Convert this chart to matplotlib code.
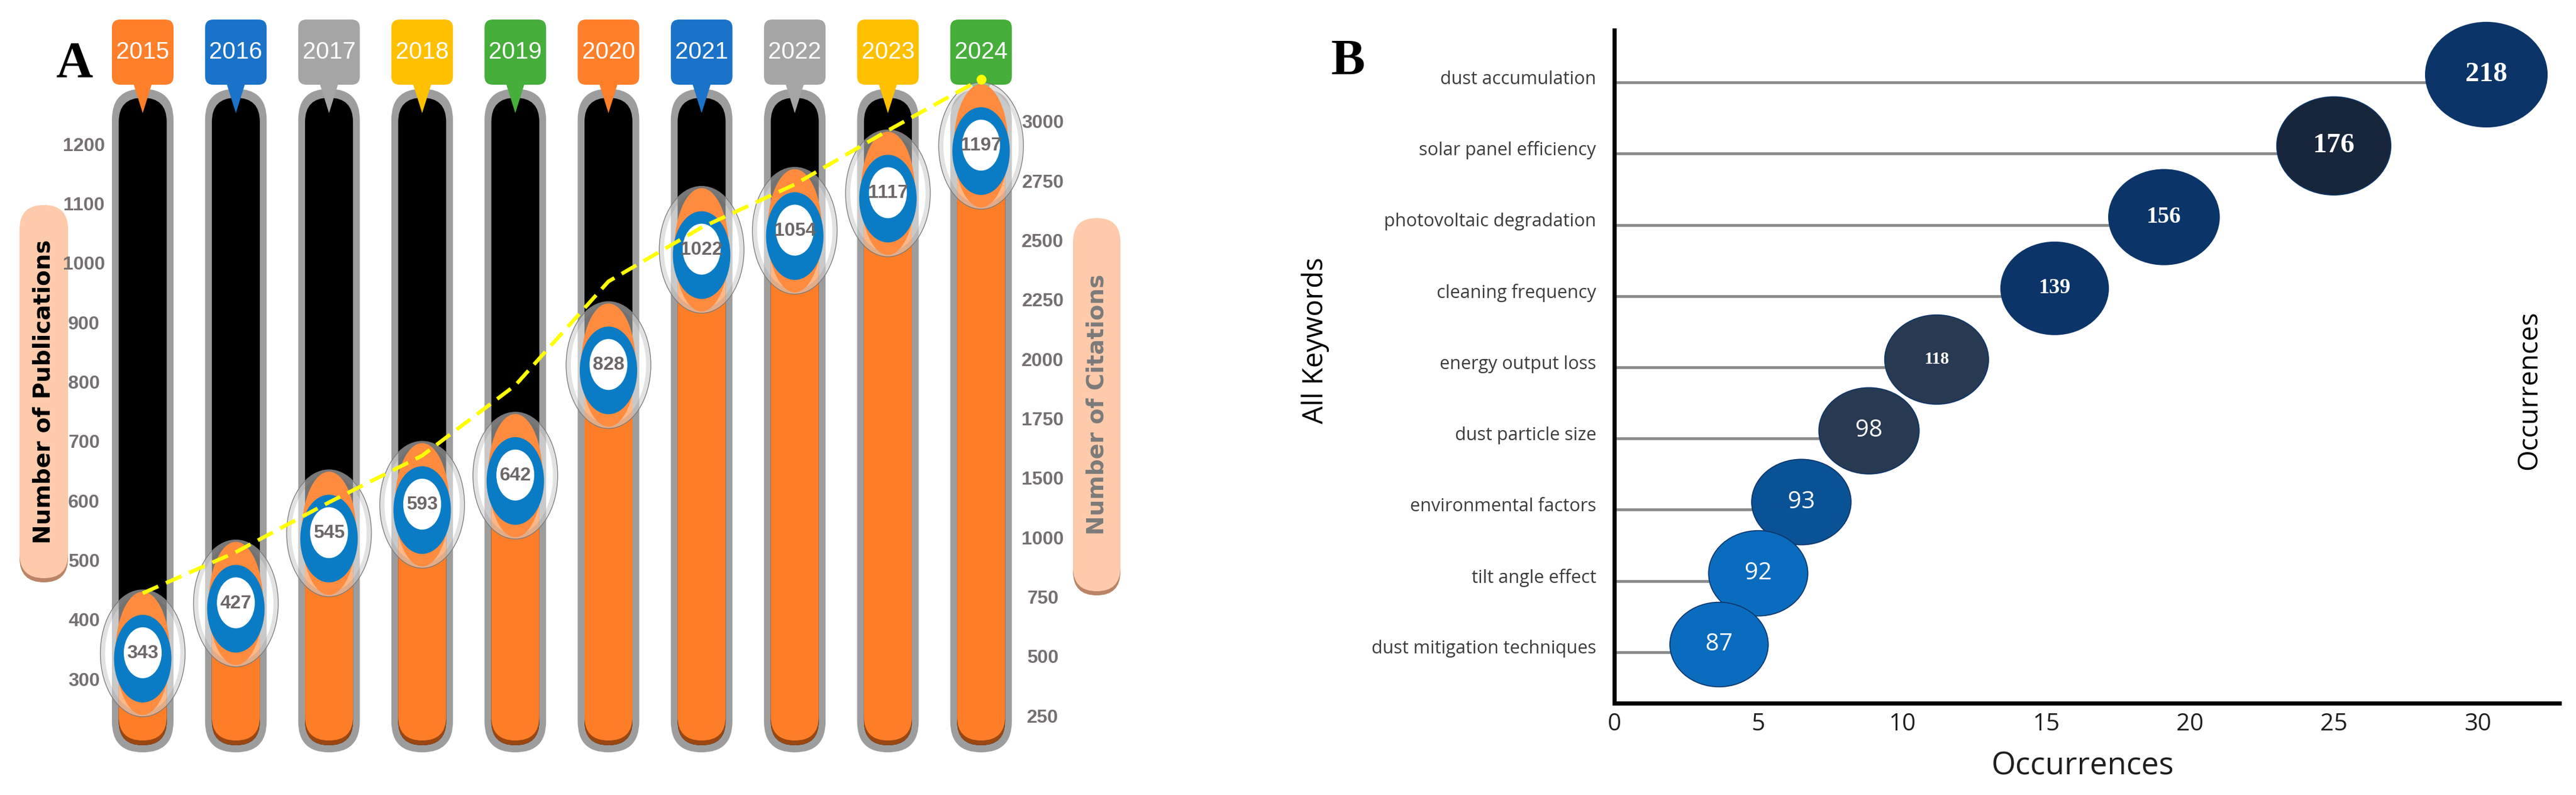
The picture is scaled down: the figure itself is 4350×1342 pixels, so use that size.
import numpy as np
import matplotlib
matplotlib.use("Agg")
import matplotlib.pyplot as plt
from matplotlib import font_manager
from matplotlib.patches import FancyBboxPatch, Ellipse, Polygon
from matplotlib.path import Path
from matplotlib.transforms import ScaledTranslation

# ---------------- panel A data ----------------
years = [2015, 2016, 2017, 2018, 2019, 2020, 2021, 2022, 2023, 2024]
publications = [343, 427, 545, 593, 642, 828, 1022, 1054, 1117, 1197]
# citations (right axis)
citations = [765, 938, 1295, 1594, 1890, 2327, 2554, 2735, 2962, 3178]
pub_ticks = [300, 400, 500, 600, 700, 800, 900, 1000, 1100, 1200]
cit_ticks = [250, 500, 750, 1000, 1500, 1750, 2000, 2250, 2500, 2750, 3000]

# ---------------- panel B data ----------------
keywords = ["dust accumulation", "solar panel efficiency", "photovoltaic degradation",
            "cleaning frequency", "energy output loss", "dust particle size",
            "environmental factors", "tilt angle effect", "dust mitigation techniques"]
occurrences = [30.3, 25.0, 19.1, 15.3, 11.2, 8.85, 6.5, 5.0, 3.64]
bubble_values = [218, 176, 156, 139, 118, 98, 93, 92, 87]
occ_ticks = [0, 5, 10, 15, 20, 25, 30]

# ---------------- styles ----------------
tag_colors = ["#FE7F2A", "#1A73C8", "#A5A5A5", "#FFC000", "#46AE3B"] * 2
bubble_colors = ["#0B3468", "#17263A", "#0B3468", "#0B3468", "#283A52",
                 "#283A52", "#0A5296", "#0A6CBF", "#0A6CBF"]
bubble_fonts = ["serif"] * 5 + ["sans"] * 4
bubble_fsizes = [34, 34, 28, 26, 21, 29, 29, 29, 29]

installed = {f.name for f in font_manager.fontManager.ttflist}
has_narrow = "Liberation Sans Narrow" in installed
NARROW = ["Liberation Sans Narrow", "DejaVu Sans"] if has_narrow else ["Liberation Sans", "DejaVu Sans"]
year_fs = 34 if has_narrow else 29
num_fs = 26 if has_narrow else 23
tick_fs = 26 if has_narrow else 23
SANS = ["Open Sans", "DejaVu Sans"]
SERIF = ["Liberation Serif", "DejaVu Serif"]

W, H = 4350, 1342
fig = plt.figure(figsize=(W / 100, H / 100), dpi=100)
fig.patch.set_facecolor("white")

# decoration layer in pixel coordinates (label pills)
deco = fig.add_axes([0, 0, 1, 1])
deco.set_xlim(0, W)
deco.set_ylim(H, 0)
deco.axis("off")


def pill(x, y, w, h, fc, shade):
    deco.add_patch(FancyBboxPatch((x, y + 7), w, h, boxstyle=f"round,pad=0,rounding_size={w/2}",
                                  fc=shade, ec="none"))
    deco.add_patch(FancyBboxPatch((x, y), w, h, boxstyle=f"round,pad=0,rounding_size={w/2}",
                                  fc=fc, ec="none"))


pill(33, 346, 82, 630, "#FDCAAB", "#B98566")
pill(1812, 368, 80, 630, "#FDCAAB", "#B98566")

# ---------------- panel A ----------------
A_LEFT, A_RIGHT = 180, 1720
X0, DX = 241, 157.3          # px of first column centre, px per year
PY0, PPX = 1146, 1.0033      # image y of 300 publications, px per publication


def img_to_pub(yimg):
    return 300 + (PY0 - yimg) / PPX


axA = fig.add_axes([A_LEFT / W, 0, (A_RIGHT - A_LEFT) / W, 1])
axA.patch.set_visible(False)
axA.set_xlim((A_LEFT - X0) / DX, (A_RIGHT - X0) / DX)
axA.set_ylim(img_to_pub(H), img_to_pub(0))
MA = DX / PPX


def capsule(xc, y0, y1, wpx, color, z):
    w = wpx / DX
    axA.add_patch(FancyBboxPatch((xc - w / 2, y0), w, y1 - y0,
                                 boxstyle=f"round,pad=0,rounding_size={w/2}",
                                 mutation_aspect=MA, fc=color, ec="none", zorder=z, clip_on=False))


for i, (yr, val) in enumerate(zip(years, publications)):
    # column
    capsule(i, img_to_pub(1270), img_to_pub(150), 104, "#9D9D9D", 1)
    capsule(i, img_to_pub(1258), img_to_pub(165), 81, "#000000", 2)
    capsule(i, img_to_pub(1258), val, 81, "#9A4712", 3)
    capsule(i, img_to_pub(1250), val, 81, "#FE7E28", 3)

    # glass bubble
    axA.add_patch(Ellipse((i, val), 143 / DX, 214 / PPX, fc=(1, 1, 1, 0.45),
                          ec="#7A7A7A", lw=1.0, zorder=5, clip_on=False))
    axA.add_patch(Ellipse((i, val), 134 / DX, 205 / PPX, fc="none",
                          ec=(0.55, 0.55, 0.55, 0.25), lw=5, zorder=5, clip_on=False))
    axA.add_patch(Ellipse((i, val), 92 / DX, 208 / PPX, fc="#FF8B3E", ec="none", zorder=6))
    axA.add_patch(Ellipse((i, val - 9 / PPX), 97 / DX, 148 / PPX, fc="#0A7CC5", ec="none", zorder=7))
    axA.add_patch(Ellipse((i, val + 1 / PPX), 64 / DX, 86 / PPX, fc="white", ec="none", zorder=8))
    axA.text(i, val, str(val), ha="center", va="center", fontsize=num_fs, fontweight="bold",
             color="#6E6767", family=NARROW, zorder=9)

    # year tag
    tw = 104 / DX
    axA.add_patch(FancyBboxPatch((i - tw / 2, img_to_pub(143)), tw, (143 - 33) / PPX,
                                 boxstyle=f"round,pad=0,rounding_size={14/DX}",
                                 mutation_aspect=MA, fc=tag_colors[i], ec="none",
                                 zorder=4, clip_on=False))
    axA.add_patch(Polygon([(i - 16 / DX, img_to_pub(140)), (i + 16 / DX, img_to_pub(140)),
                           (i, img_to_pub(191))], closed=True, fc=tag_colors[i], ec="none",
                          zorder=4, clip_on=False))
    axA.text(i, img_to_pub(88), str(yr), ha="center", va="center", fontsize=year_fs,
             color="white", family=NARROW, zorder=5)

axA.set_xticks([])
axA.set_yticks(pub_ticks, labels=[str(t) for t in pub_ticks], ha="center",
               fontsize=tick_fs, fontweight="bold", color="#767070", family=NARROW)
axA.tick_params(axis="y", length=0, pad=27.4)
for s in axA.spines.values():
    s.set_visible(False)
axA.set_ylabel("Number of Publications", fontsize=28, fontweight="bold", color="black",
               family="DejaVu Sans", va="center")
axA.yaxis.set_label_coords((74 - A_LEFT) / (A_RIGHT - A_LEFT), (H - 661) / H)

# right axis: tick labels are evenly spaced slots (1250 is absent in the source)
knot_vals = [-250, 0] + cit_ticks + [3250, 3500, 3750]
knot_slots = list(range(-2, len(knot_vals) - 2))


def fwd(v):
    return np.interp(v, knot_vals, knot_slots)


def inv(s):
    return np.interp(s, knot_slots, knot_vals)


SLOT0_IMG, SLOT_PX = 1208, 100.3
ax2 = axA.twinx()
ax2.patch.set_visible(False)
ax2.set_yscale("function", functions=(fwd, inv))
ax2.set_ylim(inv((SLOT0_IMG - H) / SLOT_PX), inv(SLOT0_IMG / SLOT_PX))
ax2.set_yticks(cit_ticks, labels=[str(t) for t in cit_ticks], ha="center",
               fontsize=tick_fs, fontweight="bold", color="#767070", family=NARROW)
ax2.tick_params(axis="y", length=0, pad=29.5)
for s in ax2.spines.values():
    s.set_visible(False)
ax2.plot(range(len(years)), citations, color="#FFFF00", lw=4.6, ls=(0, (4.5, 2.2)), zorder=10)
ax2.plot(len(years) - 1, citations[-1], "o", color="#FFFF00", ms=11, zorder=10)
ax2.set_ylabel("Number of Citations", fontsize=28, fontweight="bold", color="#7B7B7B",
               family="DejaVu Sans", va="center", rotation=90)
ax2.yaxis.set_label_coords((1852 - A_LEFT) / (A_RIGHT - A_LEFT), (H - 683) / H)

# ---------------- panel B ----------------
B_X0, B_X1, B_PXU = 2726, 4322, 48.6
B_TOP, B_BOT = 51, 1187
STEM0, STEM_DY = 139, 120.25
axB = fig.add_axes([B_X0 / W, (H - B_BOT) / H, (B_X1 - B_X0) / W, (B_BOT - B_TOP) / H])
axB.patch.set_visible(False)
axB.set_xlim(0, (B_X1 - B_X0) / B_PXU)
axB.set_ylim((B_BOT - STEM0) / STEM_DY, (B_TOP - STEM0) / STEM_DY)

ypos = np.arange(len(keywords))
axB.hlines(ypos, 0, occurrences, colors="#8A8A8A", lw=3.4, zorder=1)

lift = axB.transData + ScaledTranslation(0, 0.13, fig.dpi_scale_trans)
circ = Path.unit_circle()
ell = Path(circ.vertices * [1, 0.86], circ.codes)
sizes = [(0.72 * (140 + 0.3 * v)) ** 2 for v in bubble_values]
axB.scatter(occurrences, ypos, s=sizes, marker=ell, c=bubble_colors,
            edgecolors="#0B3468", linewidths=1.2, zorder=3, transform=lift, clip_on=False)
for x, y, v, f, fs in zip(occurrences, ypos, bubble_values, bubble_fonts, bubble_fsizes):
    axB.text(x, y, str(v), transform=lift, ha="center", va="center", color="white",
             fontsize=fs, family=SERIF if f == "serif" else SANS,
             fontweight="bold" if f == "serif" else "normal", zorder=4)

axB.set_yticks(ypos, labels=keywords, fontsize=22, color="#3C3C3C", family=SANS)
axB.set_xticks(occ_ticks, labels=[str(t) for t in occ_ticks], fontsize=29,
               color="#1E1E1E", family=SANS)
axB.tick_params(axis="y", length=0, pad=22)
axB.tick_params(axis="x", length=0, pad=11)
up = ScaledTranslation(0, 0.09, fig.dpi_scale_trans)
for lab in axB.get_yticklabels():
    lab.set_transform(lab.get_transform() + up)
for side in ("top", "right"):
    axB.spines[side].set_visible(False)
for side in ("left", "bottom"):
    axB.spines[side].set_linewidth(5)
    axB.spines[side].set_color("black")

axB.set_xlabel("Occurrences", fontsize=38, family=SANS, color="#1E1E1E", va="center")
axB.xaxis.set_label_coords((3517 - B_X0) / (B_X1 - B_X0), -(1294 - B_BOT) / (B_BOT - B_TOP))
axB.set_ylabel("All Keywords", fontsize=34, family=SANS, color="black", va="center")
axB.yaxis.set_label_coords((2221 - B_X0) / (B_X1 - B_X0), (B_BOT - 575) / (B_BOT - B_TOP))
axB.text((4271 - B_X0) / (B_X1 - B_X0), (B_BOT - 659) / (B_BOT - B_TOP), "Occurrences",
         transform=axB.transAxes, rotation=90, ha="center", va="center",
         fontsize=33, family=SANS, color="black")

# panel letters
fig.text(125 / W, 1 - 109 / H, "A", fontsize=62, fontweight="bold", family=SERIF,
         ha="center", va="center")
fig.text(2276 / W, 1 - 105 / H, "B", fontsize=62, fontweight="bold", family=SERIF,
         ha="center", va="center")

fig.savefig("out.png", dpi=100)
